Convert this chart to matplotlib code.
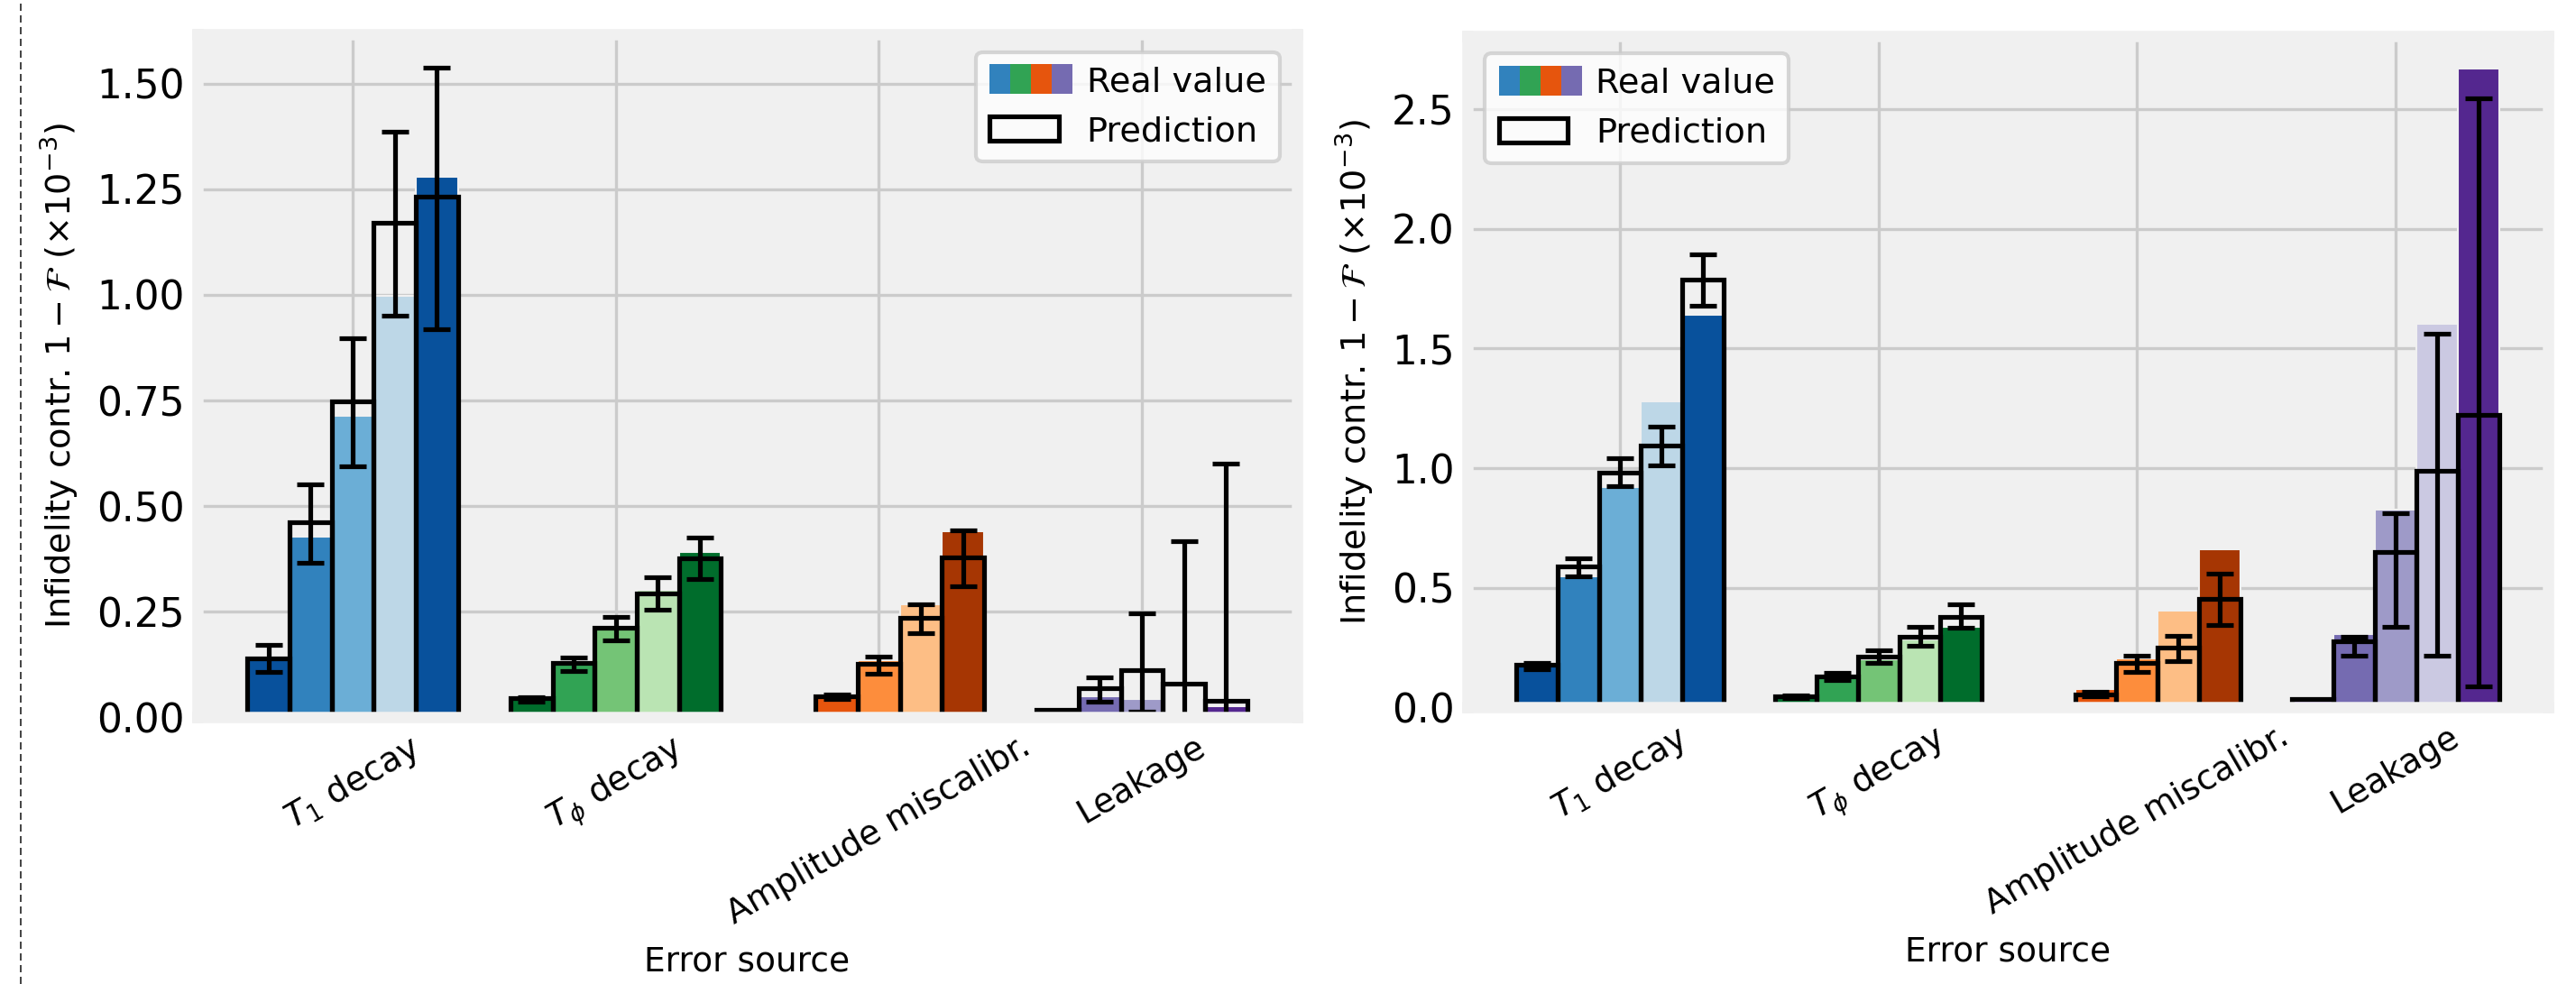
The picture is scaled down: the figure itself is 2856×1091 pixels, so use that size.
import matplotlib
matplotlib.use("Agg")
import matplotlib.pyplot as plt
import numpy as np
from matplotlib.patches import Rectangle, Patch
from matplotlib.legend_handler import HandlerBase
from matplotlib.lines import Line2D

# ---------------- data ----------------
categories = [r"$T_1$ decay", r"$T_\phi$ decay", "Amplitude miscalibr.", "Leakage"]

blues = ['#08519c', '#3182bd', '#6baed6', '#bdd7e7', '#08519c']
greens = ['#006d2c', '#31a354', '#74c476', '#bae4b3', '#006d2c']
oranges = ['#a63603', '#e6550d', '#fd8d3c', '#fdbe85', '#a63603']
purples = ['#54278f', '#756bb1', '#9e9ac8', '#cbc9e2', '#54278f']
group_colors = [blues, greens, oranges, purples]
legend_colors = ['#3182bd', '#31a354', '#e6550d', '#756bb1']

# left panel
real_left_t1 = [0.138, 0.4275, 0.714, 0.998, 1.280]
real_left_tphi = [0.045, 0.130, 0.218, 0.3015, 0.391]
real_left_amp = [0.0, 0.050, 0.1356, 0.267, 0.441]
real_left_leak = [0.0, 0.050, 0.043, 0.0, 0.026]

pred_left_t1 = [0.140, 0.461, 0.747, 1.171, 1.232]
pred_left_tphi = [0.045, 0.129, 0.212, 0.294, 0.376]
pred_left_amp = [0.0, 0.049, 0.127, 0.235, 0.378]
pred_left_leak = [0.017, 0.070, 0.111, 0.080, 0.040]

lo_left_t1 = [0.107, 0.366, 0.594, 0.951, 0.919]
lo_left_tphi = [0.0375, 0.109, 0.182, 0.254, 0.327]
lo_left_amp = [0.0, 0.043, 0.1036, 0.1995, 0.3096]
lo_left_leak = [0.017, 0.0376, 0.013, 0.0, 0.0]

hi_left_t1 = [0.171, 0.5525, 0.898, 1.386, 1.539]
hi_left_tphi = [0.0486, 0.142, 0.237, 0.332, 0.426]
hi_left_amp = [0.0, 0.055, 0.144, 0.267, 0.443]
hi_left_leak = [0.017, 0.095, 0.247, 0.416, 0.601]

# right panel
real_right_t1 = [0.180, 0.548, 0.921, 1.278, 1.639]
real_right_tphi = [0.045, 0.125, 0.200, 0.285, 0.335]
real_right_amp = [0.0, 0.075, 0.205, 0.403, 0.661]
real_right_leak = [0.030, 0.307, 0.827, 1.604, 2.671]

pred_right_t1 = [0.178, 0.589, 0.981, 1.095, 1.788]
pred_right_tphi = [0.046, 0.130, 0.212, 0.296, 0.379]
pred_right_amp = [0.0, 0.055, 0.187, 0.2485, 0.454]
pred_right_leak = [0.035, 0.277, 0.651, 0.990, 1.221]

lo_right_t1 = [0.160, 0.549, 0.924, 1.0125, 1.677]
lo_right_tphi = [0.040, 0.114, 0.186, 0.257, 0.332]
lo_right_amp = [0.0, 0.045, 0.147, 0.193, 0.3436]
lo_right_leak = [0.035, 0.2147, 0.335, 0.2147, 0.0887]

hi_right_t1 = [0.185, 0.622, 1.041, 1.175, 1.893]
hi_right_tphi = [0.050, 0.144, 0.238, 0.335, 0.429]
hi_right_amp = [0.0, 0.065, 0.2146, 0.2985, 0.5586]
hi_right_leak = [0.035, 0.295, 0.810, 1.5606, 2.545]

ylabel = r"Infidelity contr. $1-\mathcal{F}$ $(\times 10^{-3})$"
xlabel = "Error source"

# ---------------- style ----------------
BG = '#f0f0f0'
EDGE_LW = 1.25
BAR_W = 0.16

fig = plt.figure(figsize=(9.52, 3.6367), dpi=300)
fig.patch.set_facecolor('white')


class MultiColorPatch:
    def __init__(self, colors):
        self.colors = colors


class MultiColorHandler(HandlerBase):
    def create_artists(self, legend, orig_handle, xdescent, ydescent,
                       width, height, fontsize, trans):
        n = len(orig_handle.colors)
        total_w = width * 1.2
        h = height * 1.22
        w = total_w / n
        arts = []
        for i, c in enumerate(orig_handle.colors):
            r = Rectangle((-xdescent + i * w, -ydescent - (h - height) / 2), w, h,
                          facecolor=c, edgecolor='none', transform=trans)
            arts.append(r)
        return arts


def draw_panel(ax, reals, preds, los, his, legend_loc):
    ax.set_facecolor(BG)
    for sp in ax.spines.values():
        sp.set_color(BG)
        sp.set_linewidth(3.0)
    ax.set_axisbelow(True)
    ax.grid(True, color='#cbcbcb', linewidth=0.8)
    for g in range(len(categories)):
        cols = group_colors[g]
        n = len(reals[g])
        xs = np.array([g + (j - (n - 1) / 2) * BAR_W for j in range(n)])
        real = np.array(reals[g])
        pred = np.array(preds[g])
        lo = np.array(los[g])
        hi = np.array(his[g])
        ax.bar(xs, real, width=BAR_W, color=cols, edgecolor=BG, linewidth=0.5, zorder=1)
        ax.bar(xs, pred, width=BAR_W, fill=False, edgecolor='black',
               linewidth=EDGE_LW, zorder=1.5)
        yerr = np.vstack([pred - lo, hi - pred])
        mask = (hi - lo) > 0
        ax.errorbar(xs[mask], pred[mask], yerr=yerr[:, mask], fmt='none',
                    ecolor='black', elinewidth=EDGE_LW, capsize=3.6,
                    capthick=EDGE_LW, zorder=2)
    ax.set_xticks(range(len(categories)))
    ax.set_xticklabels(categories, rotation=30, ha='center', fontsize=9)
    ax.tick_params(axis='both', length=0, pad=3.5)
    ax.tick_params(axis='y', labelsize=10.5)
    ax.set_xlabel(xlabel, fontsize=9)
    ax.set_ylabel(ylabel, fontsize=9.2)
    handles = [MultiColorPatch(legend_colors),
               Patch(facecolor='none', edgecolor='black', linewidth=EDGE_LW)]
    ax.legend(handles, ["Real value", "Prediction"], loc=legend_loc,
              fontsize=9.2, fancybox=True,
              handler_map={MultiColorPatch: MultiColorHandler()})


W, H = 2856, 1091
axL = fig.add_axes([219 / W, (H - 795.3) / H, (1438 - 219) / W, (795.3 - 38.5) / H])
axR = fig.add_axes([1627 / W, (H - 784.3) / H, (2825 - 1627) / W, (784.3 - 40.3) / H])

draw_panel(axL,
           [real_left_t1, real_left_tphi, real_left_amp, real_left_leak],
           [pred_left_t1, pred_left_tphi, pred_left_amp, pred_left_leak],
           [lo_left_t1, lo_left_tphi, lo_left_amp, lo_left_leak],
           [hi_left_t1, hi_left_tphi, hi_left_amp, hi_left_leak],
           'upper right')
draw_panel(axR,
           [real_right_t1, real_right_tphi, real_right_amp, real_right_leak],
           [pred_right_t1, pred_right_tphi, pred_right_amp, pred_right_leak],
           [lo_right_t1, lo_right_tphi, lo_right_amp, lo_right_leak],
           [hi_right_t1, hi_right_tphi, hi_right_amp, hi_right_leak],
           'upper left')
axR.set_yticks([0.0, 0.5, 1.0, 1.5, 2.0, 2.5])

fig.add_artist(Line2D([23 / W, 23 / W], [0, 1], transform=fig.transFigure,
                      color='#222222', linewidth=0.4, linestyle=(0, (4.8, 3))))

fig.savefig("out.png", dpi=300, facecolor='white')
